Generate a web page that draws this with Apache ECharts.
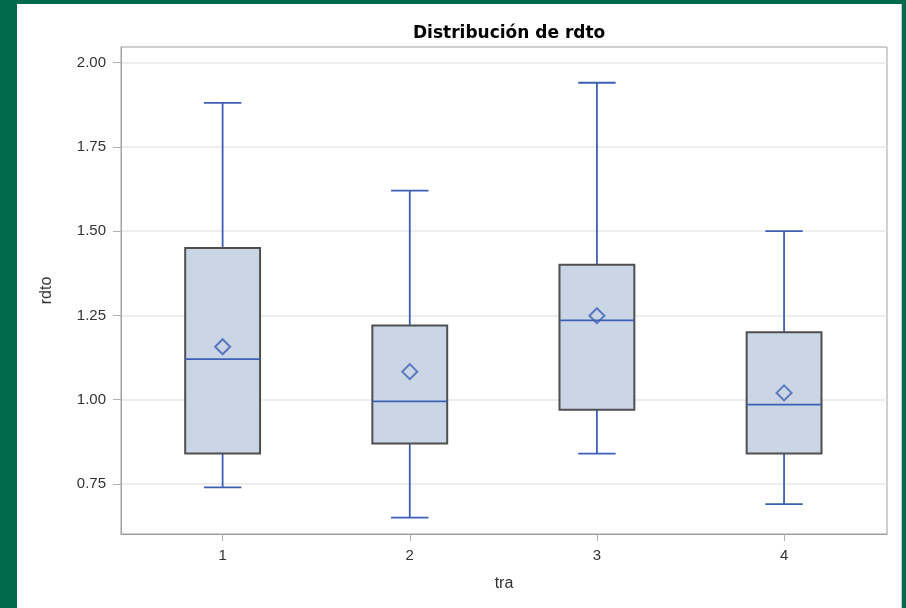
<!DOCTYPE html>
<html>
<head>
<meta charset="utf-8">
<script src="https://cdn.jsdelivr.net/npm/echarts@6/dist/echarts.min.js"></script>
<style>
  html, body { margin: 0; padding: 0; }
  body { width: 906px; height: 608px; background: #006A4E; position: relative; overflow: hidden; }
  #panel { position: absolute; left: 17px; top: 4px; width: 884px; height: 604px; background: #ffffff; border-right: 1px solid #c8c8c8; }
  #chart { width: 884px; height: 604px; }
</style>
</head>
<body>
<div id="panel"><div id="chart"></div></div>
<script>
// Treatment groups and the summary statistics of rdto for each group
const groups = [1, 2, 3, 4];
const whiskerLow = [0.74, 0.65, 0.84, 0.69];
const q1 = [0.84, 0.87, 0.97, 0.84];
const median = [1.12, 0.995, 1.235, 0.985];
const q3 = [1.45, 1.22, 1.40, 1.20];
const whiskerHigh = [1.88, 1.62, 1.94, 1.50];
const mean = [1.157, 1.083, 1.249, 1.02];
const yTicks = [0.75, 1.00, 1.25, 1.50, 1.75, 2.00];

const lineBlue = '#3D60B5';
const boxFill = '#CAD5E5';
const boxEdge = '#4f4f4f';
const textColor = '#333333';

const boxData = groups.map((g, i) => [g, whiskerLow[i], q1[i], median[i], q3[i], whiskerHigh[i]]);
const meanData = groups.map((g, i) => [g, mean[i]]);

function renderBox(params, api) {
  const x = api.value(0);
  const pLow = api.coord([x, api.value(1)]);
  const pQ1 = api.coord([x, api.value(2)]);
  const pMed = api.coord([x, api.value(3)]);
  const pQ3 = api.coord([x, api.value(4)]);
  const pHigh = api.coord([x, api.value(5)]);
  const halfBox = api.size([0.2, 0])[0];
  const halfCap = api.size([0.1, 0])[0];
  const cx = pQ1[0];
  const whisk = { stroke: lineBlue, lineWidth: 1.8 };
  return {
    type: 'group',
    children: [
      { type: 'line', shape: { x1: cx, y1: pQ3[1], x2: cx, y2: pHigh[1] }, style: whisk },
      { type: 'line', shape: { x1: cx, y1: pQ1[1], x2: cx, y2: pLow[1] }, style: whisk },
      { type: 'line', shape: { x1: cx - halfCap, y1: pHigh[1], x2: cx + halfCap, y2: pHigh[1] }, style: whisk },
      { type: 'line', shape: { x1: cx - halfCap, y1: pLow[1], x2: cx + halfCap, y2: pLow[1] }, style: whisk },
      { type: 'rect', shape: { x: cx - halfBox, y: pQ3[1], width: halfBox * 2, height: pQ1[1] - pQ3[1] },
        style: { fill: boxFill, stroke: boxEdge, lineWidth: 2 } },
      { type: 'line', shape: { x1: cx - halfBox, y1: pMed[1], x2: cx + halfBox, y2: pMed[1] }, style: whisk }
    ]
  };
}

const chart = echarts.init(document.getElementById('chart'), null, { renderer: 'canvas' });
chart.setOption({
  animation: false,
  backgroundColor: '#ffffff',
  title: {
    text: 'Distribución de rdto',
    left: 391, top: 16,
    textStyle: { fontFamily: 'DejaVu Sans', fontWeight: 'bold', fontSize: 17, color: '#000000' }
  },
  grid: {
    left: 104, top: 43, right: 14, bottom: 74,
    show: true, borderColor: '#a0a0a0', borderWidth: 1, backgroundColor: 'transparent'
  },
  xAxis: {
    type: 'value', min: 0.457, max: 4.55,
    name: 'tra', nameLocation: 'middle', nameGap: 42,
    nameTextStyle: { fontFamily: 'Liberation Sans', fontSize: 16, color: textColor },
    axisLine: { show: true, lineStyle: { color: '#a0a0a0' } },
    axisTick: { show: true, length: 7, lineStyle: { color: '#b0b0b0' }, customValues: groups },
    axisLabel: { customValues: groups, margin: 14, fontFamily: 'Liberation Sans', fontSize: 15, color: textColor,
      formatter: v => String(v) },
    splitLine: { show: false }
  },
  yAxis: {
    type: 'value', min: 0.6015, max: 2.046,
    name: 'rdto', nameLocation: 'middle', nameGap: 66,
    nameTextStyle: { fontFamily: 'Liberation Sans', fontSize: 16, color: textColor },
    axisLine: { show: true, lineStyle: { color: '#a0a0a0' } },
    axisTick: { show: true, length: 8, lineStyle: { color: '#b0b0b0' }, customValues: yTicks },
    axisLabel: { customValues: yTicks, margin: 15, fontFamily: 'Liberation Sans', fontSize: 15, color: textColor,
      formatter: v => v.toFixed(2) },
    splitLine: { show: true, lineStyle: { color: '#e8e8e8', width: 1.5 } }
  },
  series: [
    {
      type: 'custom',
      renderItem: renderBox,
      data: boxData,
      encode: { x: 0, y: [1, 2, 3, 4, 5] },
      z: 2
    },
    {
      type: 'scatter',
      data: meanData,
      symbol: 'path://M0,-1L1,0L0,1L-1,0Z',
      symbolSize: 15,
      itemStyle: { color: 'transparent', borderColor: lineBlue, borderWidth: 2 },
      z: 3
    }
  ]
});
</script>
</body>
</html>
